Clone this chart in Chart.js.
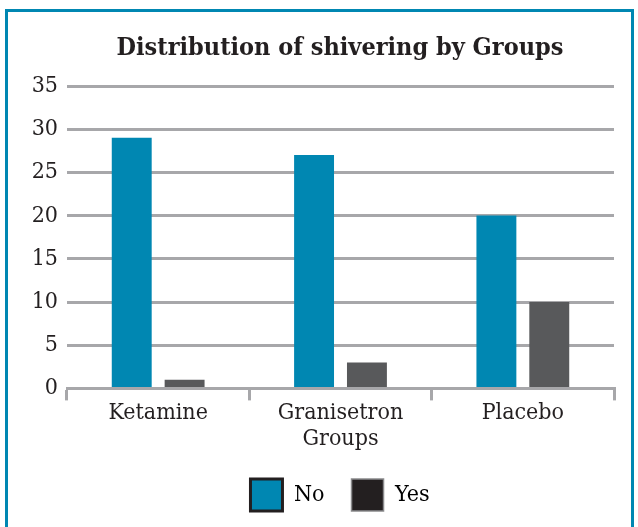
<!DOCTYPE html>
<html>
<head>
<meta charset="utf-8">
<script src="https://cdn.jsdelivr.net/npm/chart.js@4.4.1/dist/chart.umd.min.js"></script>
<style>
  html, body { margin: 0; padding: 0; background: #ffffff; }
  #wrap { width: 638px; height: 527px; position: relative; }
  canvas { display: block; }
</style>
</head>
<body>
<div id="wrap"><canvas id="c" width="638" height="527"></canvas></div>
<script>
// Shivering counts per study group
const groups = ['Ketamine', 'Granisetron', 'Placebo'];
const noShivering = [29, 27, 20];
const yesShivering = [1, 3, 10];
const yTicks = [0, 5, 10, 15, 20, 25, 30, 35];

const TEAL = '#0087b2';
const GREY_BAR = '#58595b';
const INK = '#231f20';
const GRID = '#a7a7aa';
const FONT = "'DejaVu Serif Condensed', 'DejaVu Serif', serif";

// Teal frame around the figure (top, left and right edges)
const framePlugin = {
  id: 'frame',
  afterDraw(chart) {
    const ctx = chart.ctx;
    ctx.save();
    ctx.strokeStyle = TEAL;
    ctx.lineWidth = 3;
    ctx.beginPath();
    ctx.moveTo(6.5, 540);
    ctx.lineTo(6.5, 10.5);
    ctx.lineTo(632.5, 10.5);
    ctx.lineTo(632.5, 540);
    ctx.stroke();
    ctx.restore();
  }
};

new Chart(document.getElementById('c'), {
  type: 'bar',
  data: {
    labels: groups,
    datasets: [
      { label: 'No', data: noShivering, backgroundColor: TEAL,
        barPercentage: 0.755, categoryPercentage: 0.58 },
      { label: 'Yes', data: yesShivering, backgroundColor: GREY_BAR,
        barPercentage: 0.755, categoryPercentage: 0.58 }
    ]
  },
  options: {
    responsive: false,
    animation: false,
    // negative right padding plus an empty right axis keeps the title and
    // legend centred over the plot area
    layout: { padding: { left: 0, right: -42, top: 0, bottom: 6 } },
    plugins: {
      title: {
        display: true,
        text: 'Distribution of shivering by Groups',
        color: INK,
        font: { family: FONT, size: 25, weight: 'bold', lineHeight: 1.2 },
        padding: { top: 33, bottom: 23 }
      },
      legend: {
        position: 'bottom',
        labels: {
          color: INK,
          font: { family: FONT, size: 23 },
          boxWidth: 32,
          boxHeight: 32,
          padding: 27,
          generateLabels() {
            return [
              { text: 'No', fillStyle: TEAL, strokeStyle: INK, lineWidth: 3, datasetIndex: 0 },
              { text: 'Yes', fillStyle: INK, strokeStyle: '#8a8a8c', lineWidth: 1.5, datasetIndex: 1 }
            ];
          }
        }
      },
      tooltip: { enabled: false }
    },
    scales: {
      x: {
        grid: { display: true, drawOnChartArea: false, drawTicks: true, tickLength: 12,
                color: GRID, lineWidth: 3, offset: true },
        border: { display: true, color: GRID, width: 3 },
        ticks: { color: INK, font: { family: FONT, size: 23, lineHeight: 1.1 }, padding: 0 },
        title: { display: true, text: 'Groups', color: INK,
                 font: { family: FONT, size: 23, lineHeight: 1.1 }, padding: { top: 1, bottom: 0 } }
      },
      y: {
        min: 0, max: 35,
        afterBuildTicks(axis) { axis.ticks = yTicks.map(v => ({ value: v })); },
        afterFit(axis) { axis.width = 67; },
        grid: { color: GRID, lineWidth: 3, drawTicks: false },
        border: { display: false },
        ticks: { color: INK, font: { family: FONT, size: 23 }, padding: 9 }
      },
      yRight: {
        type: 'linear',
        position: 'right',
        min: 0, max: 35,
        afterFit(axis) { axis.width = 66; },
        grid: { display: false },
        border: { display: false },
        ticks: { display: false }
      }
    }
  },
  plugins: [framePlugin]
});
</script>
</body>
</html>
